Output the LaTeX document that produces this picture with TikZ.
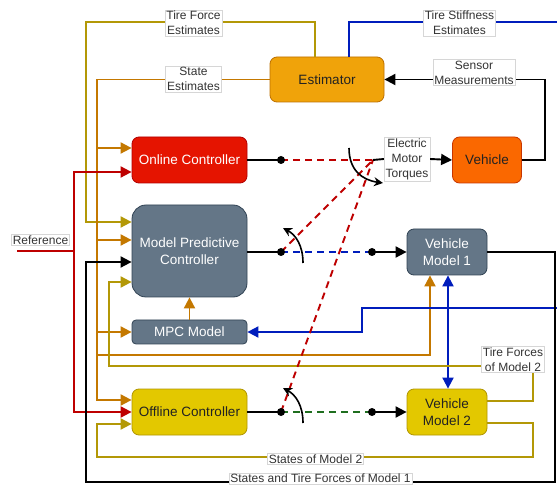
\documentclass[tikz,border=0pt]{standalone}
\usepackage{fontspec}
\setmainfont{Liberation Sans}
\usetikzlibrary{arrows.meta}

\definecolor{estF}{HTML}{F0A30A}\definecolor{estD}{HTML}{BD7000}
\definecolor{onlF}{HTML}{E51400}\definecolor{onlD}{HTML}{B20000}
\definecolor{vehF}{HTML}{FA6800}\definecolor{vehD}{HTML}{C73500}
\definecolor{slF}{HTML}{647687}\definecolor{slD}{HTML}{314354}
\definecolor{yelF}{HTML}{E3C800}\definecolor{yelD}{HTML}{B09500}
\definecolor{cGold}{HTML}{B39807}
\definecolor{cOrange}{HTML}{C47800}
\definecolor{cRed}{HTML}{BE0000}
\definecolor{cBlue}{HTML}{001DBC}
\definecolor{cGreen}{HTML}{1F6E1F}
\definecolor{txt}{HTML}{222222}
\definecolor{lblD}{HTML}{D6D6D6}

\begin{document}
\begin{tikzpicture}[x=1pt,y=-1pt,
  blk/.style={draw, line width=0.8pt, rounded corners=7pt, align=center,
    inner sep=0pt, font=\fontsize{13.5}{17}\selectfont},
  lbl/.style={fill=white, draw=lblD, line width=0.5pt, inner xsep=1.5pt,
    inner ysep=1.2pt, align=center, text=black!80,
    font=\fontsize{12}{15}\selectfont},
  wire/.style={line width=1.9pt},
  tip/.style={-{Triangle[length=11pt,width=11pt]}},
  dtip/.style={{Triangle[length=11pt,width=11pt]}-{Triangle[length=11pt,width=11pt]}},
  dotmark/.style={circle, fill=black, inner sep=0pt, minimum size=8pt},
  dsh/.style={line width=1.9pt, dash pattern=on 7pt off 5pt},
  swarrow/.style={line width=1.6pt, -{Stealth[length=9pt,width=9pt]}},
]
\useasboundingbox (0,0) rectangle (557,486);
\fill[white] (0,0) rectangle (557,486);

% ---- blocks ----
\node[blk, fill=estF, draw=estD, text=txt, minimum width=114pt, minimum height=45pt] (est) at (327,79.5) {Estimator};
\node[blk, fill=onlF, draw=onlD, text=white, minimum width=115pt, minimum height=46pt] (onl) at (189.5,160) {Online Controller};
\node[blk, fill=vehF, draw=vehD, text=txt, minimum width=69pt, minimum height=46pt] (veh) at (487,160) {Vehicle};
\node[blk, fill=slF, draw=slD, text=white, minimum width=115pt, minimum height=92pt, rounded corners=14pt] (mpc) at (189.5,251) {Model Predictive\\Controller};
\node[blk, fill=slF, draw=slD, text=white, minimum width=115pt, minimum height=24pt, rounded corners=4pt] (mpcm) at (189.5,332) {MPC Model};
\node[blk, fill=slF, draw=slD, text=white, minimum width=80pt, minimum height=46pt] (vm1) at (447,252) {Vehicle\\Model 1};
\node[blk, fill=yelF, draw=yelD, text=txt, minimum width=115pt, minimum height=46pt] (off) at (189.5,412) {Offline Controller};
\node[blk, fill=yelF, draw=yelD, text=txt, minimum width=80pt, minimum height=46pt] (vm2) at (447,412) {Vehicle\\Model 2};
\node[lbl] (emt) at (407,159) {Electric\\Motor\\Torques};

% ---- switch points ----
\coordinate (p1) at (281,160);
\coordinate (p2) at (281,252);
\coordinate (p2b) at (372,252);
\coordinate (p3) at (281,412);
\coordinate (p3b) at (372,412);
\coordinate (sw) at (373,160);

% ---- bus taps ----
\coordinate (se1) at (97,148);
\coordinate (se2) at (97,240);
\coordinate (se3) at (97,332);
\coordinate (se4) at (97,355);
\coordinate (refS) at (17,251);
\coordinate (refJ) at (74,251);

% tire force estimates
\draw[wire,cGold,tip] (est.north -| 315,0) -- (315,22) -- (86,22) -- (86,222) -- (mpc.west |- 0,222);
% state estimates
\draw[wire,cOrange,tip] (est.west) -- (97,79.5) -- (97,400) -- (off.west |- 0,400);
\draw[wire,cOrange,tip] (se1) -- (onl.west |- se1);
\draw[wire,cOrange,tip] (se2) -- (mpc.west |- se2);
\draw[wire,cOrange,tip] (se3) -- (mpcm.west);
\draw[wire,cOrange,tip] (se4) -- (430,355) -- (vm1.south -| 430,0);
% sensor measurements
\draw[wire,tip] (veh.east) -- (545,160) -- (545,79.5) -- (est.east);
% tire stiffness estimates
\draw[wire,cBlue,tip] (est.north -| 349,0) -- (349,22) -- (562,22) -- (562,308) -- (362,308) -- (362,332) -- (mpcm.east);
% reference
\draw[wire,cRed] (refS) -- (refJ);
\draw[wire,cRed,tip] (refJ) -- (74,172) -- (onl.west |- 0,172);
\draw[wire,cRed,tip] (refJ) -- (74,412) -- (off.west);
% model feeds
\draw[wire,cOrange,tip] (mpcm.north) -- (mpc.south);
\draw[wire,cBlue,dtip] (vm1.south -| 448,0) -- (vm2.north -| 448,0);
% tire forces of model 2
\draw[wire,cGold,tip] (vm2.east |- 0,401) -- (533,401) -- (533,366) -- (109,366) -- (109,282) -- (mpc.west |- 0,282);
% states of model 2
\draw[wire,cGold,tip] (vm2.east |- 0,423) -- (533,423) -- (533,457) -- (97,457) -- (97,424) -- (off.west |- 0,424);
% states and tire forces of model 1
\draw[wire,tip] (vm1.east) -- (555,252) -- (555,482) -- (86,482) -- (86,262) -- (mpc.west |- 0,262);

% controller outputs and switch
\draw[wire] (onl.east) -- (p1);
\draw[dsh,cRed] (p1) -- (sw);
\draw[dsh,cRed] (p2) -- (sw);
\draw[dsh,cRed] (p3) -- (sw);
\draw[wire] (sw) -- (emt.west);
\draw[wire,tip] (emt.east) -- (veh.west);
\draw[wire] (mpc.east |- p2) -- (p2);
\draw[dsh,cBlue] (p2) -- (p2b);
\draw[wire,tip] (p2b) -- (vm1.west |- p2b);
\draw[wire] (off.east) -- (p3);
\draw[dsh,cGreen] (p3) -- (p3b);
\draw[wire,tip] (p3b) -- (vm2.west);

\node[dotmark] (d1) at (p1) {};
\node[dotmark] (d2) at (p2) {};
\node[dotmark] (d2b) at (p2b) {};
\node[dotmark] (d3) at (p3) {};
\node[dotmark] (d3b) at (p3b) {};

% switch arrows
\draw[swarrow] (349,148) .. controls (349,170) and (362,180) .. (383,183);
\draw[swarrow] (303,263) .. controls (303,246) and (296,235) .. (283,228);
\draw[swarrow] (303,423) .. controls (303,406) and (296,395) .. (283,388);

% ---- wire labels ----
\node[lbl] (lTFE) at (193.5,23) {Tire Force\\Estimates};
\node[lbl] (lSE) at (193.5,79) {State\\Estimates};
\node[lbl] (lTSE) at (459.5,23) {Tire Stiffness\\Estimates};
\node[lbl] (lSM) at (474,72.5) {Sensor\\Measurements};
\node[lbl] (lRef) at (40.5,240) {Reference};
\node[lbl] (lTF2) at (513,359.5) {Tire Forces\\of Model 2};
\node[lbl] (lS2) at (315.5,459) {States of Model 2};
\node[lbl] (lS1) at (320.5,478.5) {States and Tire Forces of Model 1};
\end{tikzpicture}
\end{document}
